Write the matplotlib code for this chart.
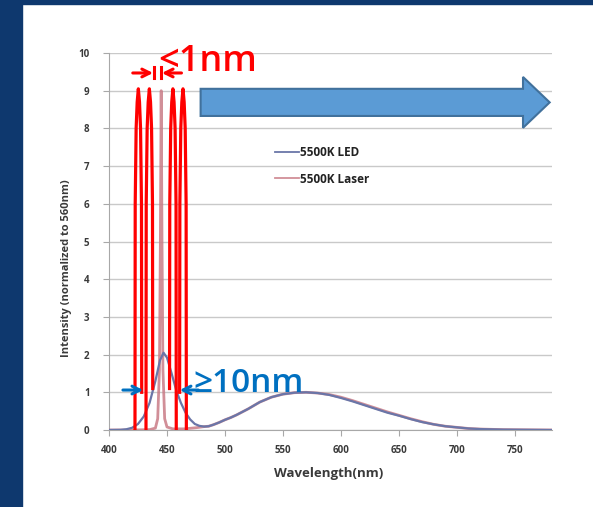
import matplotlib
matplotlib.use('Agg')
import matplotlib.pyplot as plt
from matplotlib.patches import Rectangle, FancyArrow

# spectra (wavelength nm -> intensity, normalized to 560nm)
led_wl = [400, 410, 415, 420, 425, 430, 435, 440, 444, 447, 450, 454, 458, 462, 466, 470, 474,
          478, 482, 486, 490, 495, 500, 505, 510, 520, 530, 540, 550, 560, 570, 580, 590, 600,
          610, 620, 630, 640, 650, 660, 670, 680, 690, 700, 710, 720, 740, 760, 782]
led_val = [0.0, 0.005, 0.02, 0.06, 0.16, 0.36, 0.72, 1.3, 1.85, 2.05, 1.92, 1.5, 1.05, 0.72,
           0.46, 0.28, 0.16, 0.11, 0.09, 0.1, 0.14, 0.2, 0.27, 0.33, 0.4, 0.56, 0.74, 0.87, 0.95,
           0.99, 1.0, 0.98, 0.93, 0.85, 0.76, 0.66, 0.56, 0.46, 0.38, 0.29, 0.21, 0.15, 0.1, 0.07,
           0.04, 0.025, 0.01, 0.005, 0.0]

laser_wl = [400, 420, 435, 440, 442, 443.5, 444.3, 445, 445.7, 446.5, 448, 450, 455, 465, 475,
            482, 486, 490, 495, 500, 505, 510, 520, 530, 540, 550, 560, 570, 580, 590, 600,
            610, 620, 630, 640, 650, 660, 670, 680, 690, 700, 710, 720, 740, 760, 782]
laser_val = [0.0, 0.0, 0.01, 0.05, 0.3, 1.6, 5.0, 9.0, 5.0, 1.6, 0.3, 0.08, 0.03, 0.03, 0.06,
             0.09, 0.1, 0.14, 0.2, 0.27, 0.33, 0.4, 0.56, 0.74, 0.87, 0.95, 0.99, 1.0, 0.98,
             0.94, 0.87, 0.78, 0.68, 0.58, 0.48, 0.39, 0.3, 0.22, 0.15, 0.1, 0.07, 0.04, 0.025,
             0.01, 0.005, 0.0]

series_names = ['5500K LED', '5500K Laser']
x_ticks = [400, 450, 500, 550, 600, 650, 700, 750]
y_ticks = list(range(0, 11))

# hand drawn red "laser line" spikes of the annotation
spike_centers = [425.3, 434.8, 455.1, 463.8]
spike_leg_bottoms = [(0.0, 1.0), (0.0, 1.1), (1.1, 0.0), (1.0, 0.0)]
spike_offsets = [-2.9, -2.7, -1.9, -1.0, 0.0, 1.0, 1.9, 2.7, 2.9]
spike_heights = [None, 6.0, 8.0, 8.7, 9.05, 8.7, 8.0, 6.0, None]

navy = '#0e386e'
grid_gray = '#c9c9c9'
text_gray = '#3a3a3a'

fig = plt.figure(figsize=(5.93, 5.07), dpi=100)
fig.patch.set_facecolor('white')
fig.patches.append(Rectangle((0, 0), 22 / 593, 1, transform=fig.transFigure,
                             color=navy, zorder=0))
fig.patches.append(Rectangle((0, 1 - 4 / 507), 1, 4 / 507, transform=fig.transFigure,
                             color=navy, zorder=0))

ax = fig.add_axes([109 / 593, 1 - 430 / 507, (552 - 109) / 593, (430 - 53) / 507])
ax.set_xlim(400, 782)
ax.set_ylim(0, 10)

ax.plot(laser_wl, laser_val, color='#c97b86', lw=2.0, alpha=0.85, label=series_names[1], zorder=3)
ax.plot(led_wl, led_val, color='#6a76a8', lw=1.6, label=series_names[0], zorder=4)

ax.set_xticks(x_ticks)
ax.set_yticks(y_ticks)
ax.grid(axis='y', color=grid_gray, lw=1)
ax.set_axisbelow(True)
for s in ['top', 'right']:
    ax.spines[s].set_visible(False)
for s in ['left', 'bottom']:
    ax.spines[s].set_color('#a8a8a8')
ax.tick_params(axis='both', colors='#a8a8a8', length=4, width=0.8, labelsize=7,
               labelcolor=text_gray)
ax.tick_params(axis='y', pad=10)
ax.tick_params(axis='x', pad=7)
for lbl in ax.get_xticklabels() + ax.get_yticklabels():
    lbl.set_fontweight('bold')
    lbl.set_family('Open Sans')

handles, labels = ax.get_legend_handles_labels()
leg = ax.legend(handles[::-1], labels[::-1], loc='upper left', frameon=False,
                bbox_to_anchor=(275 / 593, 1 - 146 / 507), bbox_transform=fig.transFigure,
                borderpad=0, borderaxespad=0, handlelength=2.0, handletextpad=0.1,
                labelspacing=1.15, prop={'family': 'Open Sans', 'weight': 'bold', 'size': 8.5})
for t in leg.get_texts():
    t.set_color('#222222')
for h in leg.get_lines():
    h.set_linewidth(1.3)

fig.text(67 / 593, 1 - 268 / 507, 'Intensity (normalized to 560nm)', rotation=90,
         ha='center', va='center', fontsize=8, fontweight='bold', family='Open Sans',
         color=text_gray)
fig.text(329 / 593, 1 - 473 / 507, 'Wavelength(nm)', ha='center', va='center',
         fontsize=9.5, fontweight='bold', family='Open Sans', color=text_gray)

# red spikes
for c, (bl, br) in zip(spike_centers, spike_leg_bottoms):
    xs = [c + o for o in spike_offsets]
    ys = list(spike_heights)
    ys[0] = bl
    ys[-1] = br
    ax.plot(xs, ys, color='#ff0000', lw=2.3, zorder=6, solid_joinstyle='round')

# <1nm arrows
red = '#ff0000'
ax.annotate('', xy=(438.0, 9.47), xytext=(420.5, 9.47),
            arrowprops=dict(arrowstyle='->', color=red, lw=2.2, mutation_scale=14,
                            shrinkA=0, shrinkB=0), annotation_clip=False, zorder=7)
ax.annotate('', xy=(445.6, 9.47), xytext=(462.5, 9.47),
            arrowprops=dict(arrowstyle='->', color=red, lw=2.2, mutation_scale=14,
                            shrinkA=0, shrinkB=0), annotation_clip=False, zorder=7)
ax.plot([438.6, 438.6], [9.33, 9.62], color=red, lw=2.2, zorder=7)
ax.plot([445.0, 445.0], [9.33, 9.62], color=red, lw=2.2, zorder=7)
ax.text(442.5, 9.52, '<1nm', color=red, fontsize=26, family='Open Sans', fontweight='semibold',
        ha='left', va='baseline', zorder=8)

# >10nm arrows
blue = '#0070c0'
ax.annotate('', xy=(429.5, 1.06), xytext=(412.0, 1.06),
            arrowprops=dict(arrowstyle='->', color=blue, lw=2.2, mutation_scale=14,
                            shrinkA=0, shrinkB=0), annotation_clip=False, zorder=7)
ax.annotate('', xy=(461.0, 1.06), xytext=(477.0, 1.06),
            arrowprops=dict(arrowstyle='->', color=blue, lw=2.2, mutation_scale=14,
                            shrinkA=0, shrinkB=0), annotation_clip=False, zorder=7)
ax.text(472.4, 1.0, '≥10nm', color=blue, fontsize=24, family=['Open Sans', 'DejaVu Sans'],
        fontweight='semibold', ha='left', va='baseline', zorder=8)

# big blue arrow
big = FancyArrow(479, 8.69, 301, 0, width=0.72, head_width=1.35, head_length=23,
                 length_includes_head=True, facecolor='#5b9bd5', edgecolor='#41719c',
                 lw=1.5, zorder=5, clip_on=False)
ax.add_patch(big)

fig.savefig('out.png', dpi=100)
